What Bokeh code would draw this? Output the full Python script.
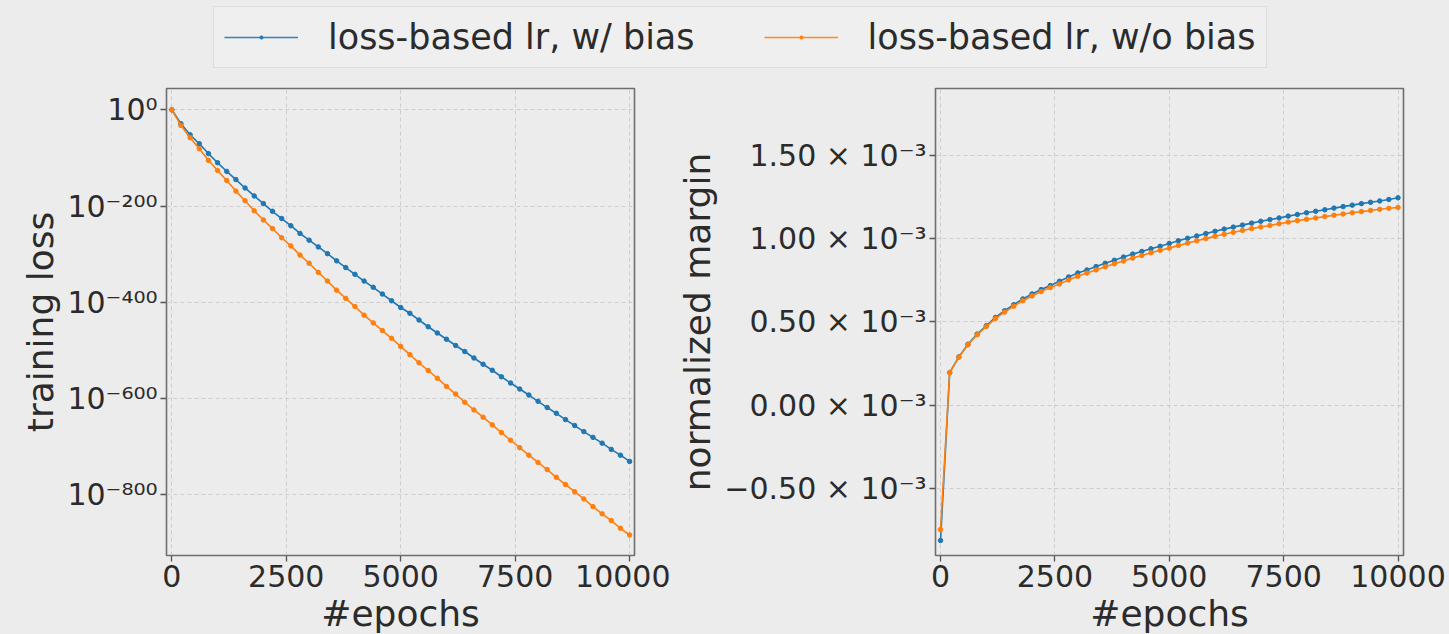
from bokeh.plotting import figure
from bokeh.models import FixedTicker, Legend, LegendItem, Range1d
from bokeh.layouts import column, row
from bokeh.embed import file_html
from bokeh.resources import INLINE

# ---- data -------------------------------------------------------------
epochs = list(range(0, 10001, 200))

# training loss, stored as log10(loss)
loss_exp_bias = [
    0, -29, -52, -70.5, -91, -110, -128, -145, -162.5, -179, -195,
    -211, -226, -241, -257, -271, -285, -299, -314, -328, -342,
    -356, -369, -383, -397, -411, -423, -437, -451, -464, -477,
    -490, -502.5, -516, -529, -541.5, -555, -568, -580.5, -593, -606,
    -619, -631, -644, -656.5, -669, -681, -693, -706, -718, -731,
]
loss_exp_nobias = [
    0, -32.5, -58, -81, -105, -126, -147, -169, -189, -210, -229,
    -247, -266, -283, -302, -319, -338, -356, -375, -392, -409,
    -427, -443, -459, -475, -492, -509, -526, -542, -558, -575,
    -591, -608, -624, -639, -655, -671, -687, -702.5, -718, -733,
    -748, -764, -779, -794, -809, -825, -840, -854, -870, -884,
]

# normalized margin, in units of 1e-3
margin_bias = [
    -0.813, 0.195, 0.289, 0.365, 0.426, 0.476, 0.526, 0.566, 0.602, 0.637, 0.667,
    0.693, 0.717, 0.743, 0.769, 0.793, 0.811, 0.831, 0.851, 0.869, 0.888,
    0.906, 0.922, 0.938, 0.953, 0.970, 0.986, 1.001, 1.015, 1.029, 1.043,
    1.056, 1.068, 1.080, 1.092, 1.103, 1.113, 1.123, 1.134, 1.144, 1.154,
    1.163, 1.172, 1.182, 1.191, 1.200, 1.209, 1.217, 1.225, 1.234, 1.244,
]
margin_nobias = [
    -0.747, 0.195, 0.287, 0.362, 0.422, 0.471, 0.519, 0.558, 0.593, 0.626, 0.655,
    0.681, 0.705, 0.727, 0.751, 0.773, 0.792, 0.811, 0.830, 0.848, 0.864,
    0.882, 0.898, 0.914, 0.929, 0.942, 0.958, 0.972, 0.986, 0.999, 1.013,
    1.025, 1.037, 1.048, 1.059, 1.069, 1.078, 1.088, 1.098, 1.107, 1.115,
    1.123, 1.131, 1.139, 1.147, 1.154, 1.161, 1.168, 1.175, 1.181, 1.186,
]

x_ticks = [0, 2500, 5000, 7500, 10000]
loss_ticks = [0, -200, -400, -600, -800]
margin_ticks = [-0.5, 0.0, 0.5, 1.0, 1.5]

series_names = ["loss-based lr, w/ bias", "loss-based lr, w/o bias"]
colors = ["#1f77b4", "#ff7f0e"]

# ---- styling ----------------------------------------------------------
BG = "#ececec"
FONT = "DejaVu Sans"
TEXT = "#2b2b2b"
SUP = str.maketrans("-0123456789", "\u207b\u2070\u00b9\u00b2\u00b3\u2074\u2075\u2076\u2077\u2078\u2079")


def sup(s):
    return str(s).translate(SUP)


def make_panel(x_range, y_range, border_left, border_right):
    p = figure(frame_width=468, frame_height=467,
               x_range=x_range, y_range=y_range,
               output_backend="svg", toolbar_location=None,
               min_border_left=border_left, min_border_right=border_right,
               min_border_top=8, min_border_bottom=79,
               background_fill_color=BG, border_fill_color=BG)
    p.outline_line_color = "#6e6e6e"
    p.outline_line_width = 1.6
    p.grid.grid_line_color = "#cdcdcd"
    p.grid.grid_line_dash = "4 3"
    p.grid.grid_line_width = 1
    for ax in p.axis:
        ax.axis_line_color = None
        ax.major_tick_out = 6
        ax.major_tick_in = 0
        ax.major_tick_line_color = "#555555"
        ax.major_tick_line_width = 1.3
        ax.minor_tick_line_color = None
        ax.major_label_text_font = FONT
        ax.major_label_text_font_size = "30px"
        ax.major_label_text_color = TEXT
        ax.major_label_standoff = 3
        ax.axis_label_text_font = FONT
        ax.axis_label_text_font_size = "36px"
        ax.axis_label_text_font_style = "normal"
        ax.axis_label_text_color = TEXT
        ax.axis_label_standoff = 3
    p.xaxis.ticker = FixedTicker(ticks=x_ticks)
    p.xaxis.axis_label = "#epochs"
    return p


def add_series(p, ys_list):
    for ys, c in zip(ys_list, colors):
        p.line(epochs, ys, color=c, line_width=1.6)
        p.scatter(epochs, ys, color=c, size=4.5)


# left: training loss (log scale drawn from exponents)
left = make_panel(Range1d(-116, 10107), Range1d(-926.6, 44.3), 166, 36)
add_series(left, [loss_exp_bias, loss_exp_nobias])
left.yaxis.ticker = FixedTicker(ticks=loss_ticks)
left.yaxis.major_label_overrides = {t: "10" + sup(t) for t in loss_ticks}
left.yaxis.axis_label = "training loss"

# right: normalized margin
right = make_panel(Range1d(-110, 10120), Range1d(-0.903, 1.90), 265, 46)
add_series(right, [margin_bias, margin_nobias])
right.yaxis.ticker = FixedTicker(ticks=margin_ticks)
right.yaxis.major_label_overrides = {
    t: ("\u2212" if t < 0 else "") + f"{abs(t):.2f} \u00d7 10" + sup(-3)
    for t in margin_ticks
}
right.yaxis.axis_label = "normalized margin"

# shared legend strip on top; its key renderers sit outside the visible range
top = figure(frame_width=1449, frame_height=80, min_border=0,
             x_range=Range1d(0, 1), y_range=Range1d(0, 1),
             x_axis_location=None, y_axis_location=None,
             output_backend="svg", toolbar_location=None,
             background_fill_color=BG, border_fill_color=BG,
             outline_line_color=None)
top.grid.visible = False
items = []
for name, c in zip(series_names, colors):
    r_line = top.line([5, 6], [5, 5], color=c, line_width=1.4, line_alpha=0.9)
    r_dot = top.scatter([5], [5], color=c, size=3.5)
    items.append(LegendItem(label=name, renderers=[r_line, r_dot]))
legend = Legend(items=items, location=(213, 12), orientation="horizontal",
                glyph_width=74, glyph_height=8, label_standoff=30,
                spacing=69, padding=10, margin=0,
                label_text_font=FONT, label_text_font_size="35px",
                label_text_color=TEXT,
                border_line_color="#cccccc", border_line_width=1.5,
                background_fill_color="#efefef", background_fill_alpha=1.0)
top.add_layout(legend)

body = row(left, right, spacing=0, styles={"background-color": BG})
layout = column(top, body, spacing=0, styles={"background-color": BG})
open("out.html", "w").write(file_html(layout, INLINE))
